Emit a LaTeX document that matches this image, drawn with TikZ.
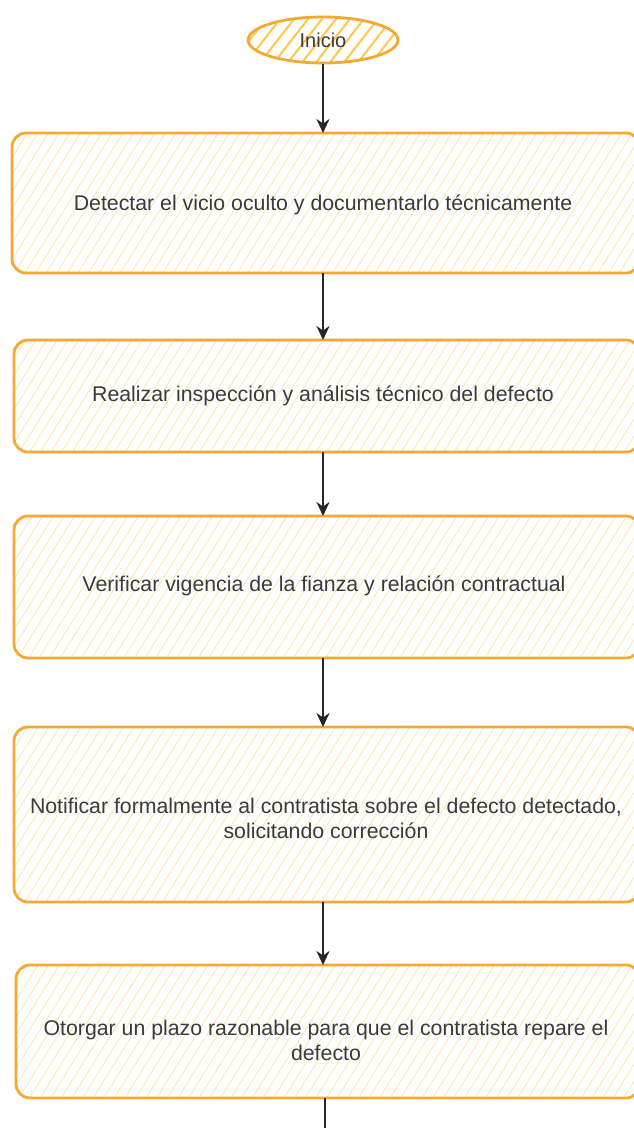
\documentclass[tikz,border=0pt]{standalone}
\usepackage{fontspec}
\setmainfont{Liberation Sans}
\usetikzlibrary{patterns.meta,arrows.meta,shapes.geometric}
\definecolor{boxline}{HTML}{F5A833}
\definecolor{hatch}{HTML}{FBE3A0}
\definecolor{hatchdark}{HTML}{FCC84A}
\definecolor{txt}{HTML}{3A3A3A}
\tikzset{
  stepbox/.style={draw=boxline, line width=2.8pt, rounded corners=14pt,
    pattern={Lines[angle=58,distance=9pt,line width=0.7pt]}, pattern color=hatch},
  boxtext/.style={text=txt, font=\fontsize{21.3}{25}\selectfont, align=center},
  startnode/.style={ellipse, draw=boxline, line width=2.8pt, minimum width=150pt, minimum height=46pt,
    pattern={Lines[angle=52,distance=11pt,line width=2pt]}, pattern color=hatchdark,
    text=txt, font=\fontsize{20}{22}\selectfont},
  flow/.style={draw=black!85, line width=2.6pt, -{Stealth[length=14pt,width=13pt]}}
}
\begin{document}
\begin{tikzpicture}[x=1pt,y=-1pt]
\useasboundingbox (0,0) rectangle (633,1128);
\node[startnode] (s) at (323,40) {Inicio};
% boxes
\draw[stepbox] (12,133) rectangle (640,273);
\node[boxtext] (b1) at (323,205) {Detectar el vicio oculto y documentarlo técnicamente};
\coordinate (b1t) at (323,133); \coordinate (b1b) at (323,273);
\draw[stepbox] (14,340) rectangle (640,452);
\node[boxtext] (b2) at (323,396) {Realizar inspección y análisis técnico del defecto};
\coordinate (b2t) at (323,340); \coordinate (b2b) at (323,452);
\draw[stepbox] (14,516) rectangle (640,658);
\node[boxtext] (b3) at (324,586) {Verificar vigencia de la fianza y relación contractual};
\coordinate (b3t) at (323,516); \coordinate (b3b) at (323,658);
\draw[stepbox] (14,727) rectangle (640,902);
\node[boxtext] (b4) at (326,818) {Notificar formalmente al contratista sobre el defecto detectado,\\solicitando corrección};
\coordinate (b4t) at (323,727); \coordinate (b4b) at (323,902);
\draw[stepbox] (16,965) rectangle (640,1098);
\node[boxtext] (b5) at (326,1040) {Otorgar un plazo razonable para que el contratista repare el\\defecto};
\coordinate (b5t) at (323,965); \coordinate (b5b) at (325,1098);
\coordinate (out) at (325,1140);
% connectors
\draw[flow] (s.south) -- (b1t);
\draw[flow] (b1b) -- (b2t);
\draw[flow] (b2b) -- (b3t);
\draw[flow] (b3b) -- (b4t);
\draw[flow] (b4b) -- (b5t);
\draw[draw=black!85, line width=2.6pt] (b5b) -- (out);
\end{tikzpicture}
\end{document}
